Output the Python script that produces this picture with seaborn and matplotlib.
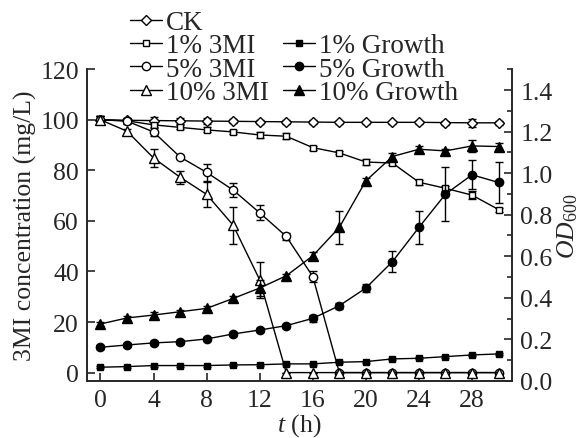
import matplotlib
matplotlib.use("Agg")
import matplotlib.pyplot as plt
import seaborn as sns
import pandas as pd
from matplotlib.lines import Line2D
from matplotlib.ticker import MultipleLocator

# time points (h)
t = [0, 2, 4, 6, 8, 10, 12, 14, 16, 18, 20, 22, 24, 26, 28, 30]

# 3MI concentration (mg/L), left axis
ck = [100, 99.8, 99.7, 99.6, 99.5, 99.4, 99.3, 99.2, 99.1, 99.0, 99.0, 99.0, 99.0, 98.9, 98.8, 98.8]
mi1 = [100, 99.6, 98.0, 97.0, 96.0, 95.2, 94.0, 93.5, 89.0, 86.9, 83.3, 82.9, 75.3, 72.9, 70.2, 64.5]
mi5 = [100, 99.5, 95.2, 85.3, 79.2, 72.2, 63.2, 53.9, 38.0, 0, 0, 0, 0, 0, 0, 0]
mi10 = [100, 95.5, 84.9, 77.3, 70.5, 58.3, 36.7, 0, 0, 0, 0, 0, 0, 0, 0, 0]

ck_err = [1.5, 1.0, 1.5, 1.2, 1.2, 0.8, 0.8, 0.8, 0.8, 0.6, 0.6, 0.6, 0.6, 0.8, 1.5, 0.8]
mi1_err = [1.5, 1.0, 1.0, 0.8, 1.0, 0.8, 1.2, 1.2, 0.8, 0.6, 1.0, 0.8, 1.0, 1.0, 1.5, 0.8]
mi5_err = [1.5, 1.0, 1.5, 0.8, 3.5, 2.7, 3.0, 1.5, 2.0, 0, 0, 0, 0, 0, 0, 0]
mi10_err = [1.5, 1.0, 3.5, 2.5, 5.0, 7.4, 7.0, 0, 0, 0, 0, 0, 0, 0, 0, 0]

# OD600, right axis
g1 = [0.066, 0.069, 0.074, 0.074, 0.074, 0.077, 0.078, 0.082, 0.082, 0.090, 0.093, 0.106, 0.109, 0.117, 0.125, 0.130]
g5 = [0.162, 0.173, 0.183, 0.189, 0.202, 0.226, 0.245, 0.266, 0.301, 0.362, 0.447, 0.574, 0.739, 0.899, 0.992, 0.955]
g10 = [0.274, 0.303, 0.317, 0.333, 0.349, 0.397, 0.447, 0.506, 0.602, 0.739, 0.963, 1.080, 1.115, 1.107, 1.131, 1.128]

g1_err = [0.005] * 16
g5_err = [0.01, 0.01, 0.01, 0.01, 0.01, 0.01, 0.01, 0.01, 0.015, 0.015, 0.02, 0.05, 0.08, 0.13, 0.07, 0.10]
g10_err = [0.01, 0.01, 0.015, 0.01, 0.01, 0.01, 0.04, 0.01, 0.02, 0.08, 0.015, 0.015, 0.015, 0.01, 0.03, 0.015]

sns.set_style("ticks")
plt.rcParams["font.family"] = ["Liberation Serif", "DejaVu Serif"]
plt.rcParams["mathtext.fontset"] = "custom"
plt.rcParams["mathtext.it"] = "Liberation Serif:italic"
plt.rcParams["mathtext.rm"] = "Liberation Serif"

fs = 18.5
fig = plt.figure(figsize=(5.81, 4.39), dpi=100)
ax = fig.add_axes([0.150, 0.130, 0.731, 0.710])
ax2 = ax.twinx()


def draw(axis, y, err, marker, face, ms, label):
    df = pd.DataFrame({"t": t, "v": y})
    axis.errorbar(t, y, yerr=err, fmt="none", ecolor="black", elinewidth=1,
                  capsize=3, capthick=1, zorder=2)
    sns.lineplot(data=df, x="t", y="v", ax=axis, color="black", linewidth=1,
                 marker=marker, markersize=ms, markerfacecolor=face,
                 markeredgecolor="black", markeredgewidth=1, label=label,
                 legend=False, zorder=3)


draw(ax, ck, ck_err, "D", "white", 5, "CK")
draw(ax, mi1, mi1_err, "s", "white", 5, "1% 3MI")
draw(ax, mi5, mi5_err, "o", "white", 6, "5% 3MI")
draw(ax, mi10, mi10_err, "^", "white", 6.5, "10% 3MI")
draw(ax2, g1, g1_err, "s", "black", 5, "1% Growth")
draw(ax2, g5, g5_err, "o", "black", 6, "5% Growth")
draw(ax2, g10, g10_err, "^", "black", 6.5, "10% Growth")

ax.set_xlim(-1, 31)
ax.set_ylim(-3.3, 120)
ax2.set_ylim(0, 1.5)
ax.set_xticks([0, 4, 8, 12, 16, 20, 24, 28])
ax.set_yticks([0, 20, 40, 60, 80, 100, 120])
ax2.set_yticks([0.0, 0.2, 0.4, 0.6, 0.8, 1.0, 1.2, 1.4])
ax2.set_yticklabels(["0.0", "0.2", "0.4", "0.6", "0.8", "1.0", "1.2", "1.4"])
ax2.yaxis.set_minor_locator(MultipleLocator(0.1))

for a in (ax, ax2):
    a.spines["top"].set_visible(False)
    for s in a.spines.values():
        s.set_linewidth(1.2)
ax.tick_params(axis="both", direction="in", length=6, width=1.2, labelsize=fs, pad=6)
ax2.tick_params(axis="y", which="major", direction="in", length=6, width=1.2, labelsize=fs, pad=6)
ax2.tick_params(axis="y", which="minor", direction="in", length=3.5, width=1.2)

ax.set_xlabel(r"$\it{t}$ (h)", fontsize=fs, labelpad=0)
ax.set_ylabel("3MI concentration (mg/L)", fontsize=fs, labelpad=2)
ax2.set_ylabel(r"$\it{OD}_{600}$", fontsize=fs, labelpad=2)

blank = Line2D([], [], linestyle="none", marker=None)


def h(marker, face, ms):
    return Line2D([], [], color="black", linewidth=1, marker=marker, markersize=ms,
                  markerfacecolor=face, markeredgecolor="black")


handles = [h("D", "white", 5), h("s", "white", 5), h("o", "white", 6), h("^", "white", 6.5),
           blank, h("s", "black", 5), h("o", "black", 6), h("^", "black", 6.5)]
labels = ["CK", "1% 3MI", "5% 3MI", "10% 3MI", "", "1% Growth", "5% Growth", "10% Growth"]
fig.legend(handles, labels, loc="upper left", bbox_to_anchor=(0.195, 1.012), ncol=2,
           frameon=False, fontsize=19.5, handlelength=1.2, handletextpad=0.15,
           labelspacing=-0.06, columnspacing=0.5, borderpad=0.1)

fig.savefig("out.png", dpi=100)
